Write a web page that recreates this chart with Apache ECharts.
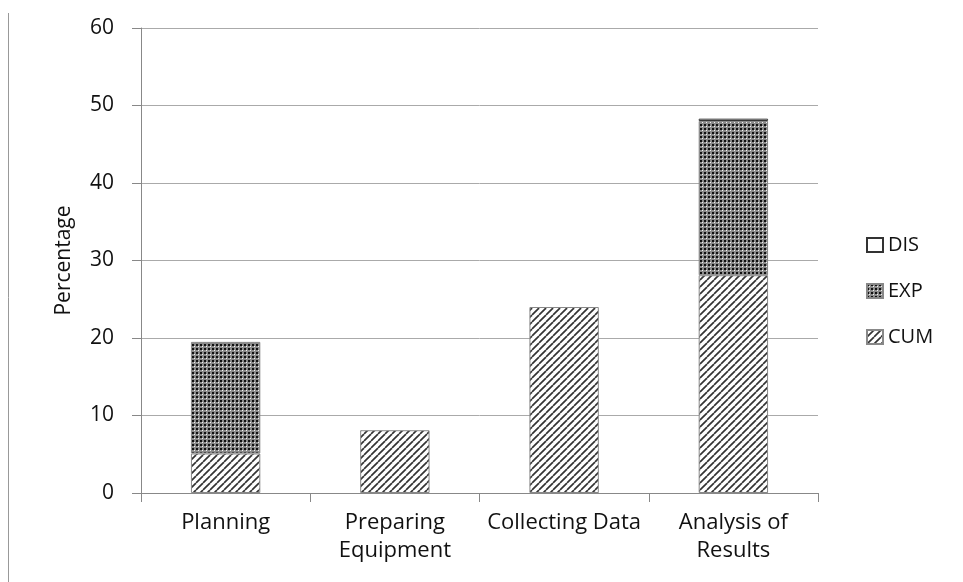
<!DOCTYPE html>
<html>
<head>
<meta charset="utf-8">
<script src="https://cdn.jsdelivr.net/npm/echarts@6/dist/echarts.min.js"></script>
<style>
html,body{margin:0;padding:0;background:#fff;}
#chart{width:963px;height:582px;}
</style>
</head>
<body>
<div id="chart"></div>
<script>
var categories = ['Planning', 'Preparing\nEquipment', 'Collecting Data', 'Analysis of\nResults'];
var cumValues = [5.1, 8.1, 24.0, 28.1];
var expValues = [14.4, null, null, 19.9];
var disValues = [null, null, null, 0.3];
var yTicks = {min: 0, max: 60, interval: 10};
var yName = 'Percentage';

function hatchPattern() {
  var s = 7;
  var c = document.createElement('canvas');
  c.width = s; c.height = s;
  var g = c.getContext('2d');
  g.fillStyle = '#fff'; g.fillRect(0, 0, s, s);
  g.strokeStyle = '#333'; g.lineWidth = 1.7;
  for (var k = -1; k <= 1; k++) {
    g.beginPath();
    g.moveTo(k * s, s);
    g.lineTo(k * s + s, 0);
    g.stroke();
  }
  return c;
}
function checkPattern() {
  var s = 4;
  var c = document.createElement('canvas');
  c.width = s; c.height = s;
  var g = c.getContext('2d');
  g.fillStyle = '#8a8a8a'; g.fillRect(0, 0, s, s);
  g.fillStyle = '#111'; g.fillRect(0, 0, 2, 2);
  g.fillStyle = '#f2f2f2'; g.fillRect(2, 2, 1, 1);
  return c;
}

var font = '"Open Sans", "Noto Sans", sans-serif';
var chart = echarts.init(document.getElementById('chart'));
chart.setOption({
  backgroundColor: '#fff',
  animation: false,
  graphic: [{
    type: 'line',
    shape: {x1: 8.5, y1: 13, x2: 8.5, y2: 582},
    style: {stroke: '#999', lineWidth: 1}
  }],
  grid: {left: 141, right: 145, top: 28, bottom: 89},
  legend: {
    orient: 'vertical',
    left: 861,
    top: 'middle',
    data: ['DIS', 'EXP', 'CUM'],
    icon: 'rect',
    itemWidth: 16,
    itemHeight: 14,
    itemGap: 26,
    textStyle: {fontFamily: font, fontSize: 20, color: '#111', padding: [0, 0, 0, 0]}
  },
  xAxis: {
    type: 'category',
    data: categories,
    axisLine: {lineStyle: {color: '#888', width: 1}},
    axisTick: {show: true, length: 9, lineStyle: {color: '#888'}},
    axisLabel: {fontFamily: font, fontSize: 22, color: '#111', margin: 16, lineHeight: 28, interval: 0}
  },
  yAxis: {
    type: 'value',
    min: yTicks.min, max: yTicks.max, interval: yTicks.interval,
    name: yName,
    nameLocation: 'middle',
    nameGap: 66,
    nameTextStyle: {fontFamily: font, fontSize: 21, color: '#111'},
    axisLine: {show: true, lineStyle: {color: '#888', width: 1}},
    axisTick: {show: true, length: 9, lineStyle: {color: '#888'}},
    axisLabel: {fontFamily: font, fontSize: 21, color: '#111', margin: 27},
    splitLine: {lineStyle: {color: '#aaa', width: 1}}
  },
  series: [
    {
      name: 'CUM', type: 'bar', stack: 'a', barWidth: '41%', data: cumValues,
      itemStyle: {color: {image: hatchPattern(), repeat: 'repeat'}, borderColor: '#888', borderWidth: 1}
    },
    {
      name: 'EXP', type: 'bar', stack: 'a', barWidth: '41%', data: expValues,
      itemStyle: {color: {image: checkPattern(), repeat: 'repeat'}, borderColor: '#888', borderWidth: 1}
    },
    {
      name: 'DIS', type: 'bar', stack: 'a', barWidth: '41%', data: disValues,
      itemStyle: {color: '#fff', borderColor: '#333', borderWidth: 1}
    }
  ]
});
</script>
</body>
</html>
